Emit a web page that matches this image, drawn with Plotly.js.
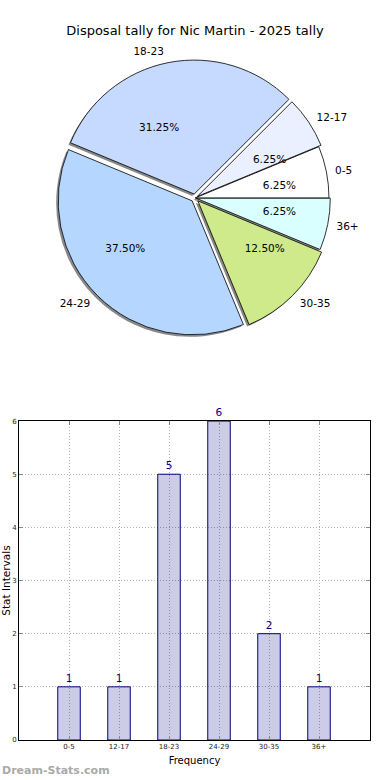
<!DOCTYPE html>
<html>
<head>
<meta charset="utf-8">
<script src="https://cdn.plot.ly/plotly-3.0.1.min.js"></script>
<style>html,body{margin:0;padding:0;background:#fff;}#chart{width:390px;height:780px;}</style>
</head>
<body>
<div id="chart"></div>
<script>
var categories = ["0-5", "12-17", "18-23", "24-29", "30-35", "36+"];
var counts = [1, 1, 5, 6, 2, 1];
var sliceColors = ["#FFFFFF", "#EAF0FF", "#C6D9FF", "#B5D6FF", "#CFEA8B", "#D9FFFF"];
var pulls = [0.0, 0.02, 0.03, 0.03, 0.03, 0.01];
var chartTitle = "Disposal tally for Nic Martin - 2025 tally";

var FONT = "DejaVu Sans, Verdana, sans-serif";
var CX = 195, CY = 198;
function dom(half, ox, oy) {
  ox = ox || 0; oy = oy || 0;
  var x = (CX + ox - 19) / 351, y = (740 - (CY + oy)) / 740;
  return {x: [x - half / 351, x + half / 351], y: [y - half / 740, y + half / 740]};
}
var ROT = 67.5;
function transparent() { return categories.map(function(){ return "rgba(0,0,0,0)"; }); }

var shadow = {
  type: "pie", labels: categories, values: counts, sort: false,
  direction: "counterclockwise", rotation: ROT, pull: pulls,
  domain: dom(138, -2, 2),
  marker: {colors: categories.map(function(){return "#888888";}), line: {width: 0}},
  textinfo: "none", hoverinfo: "skip", showlegend: false
};
var mainPie = {
  type: "pie", labels: categories, values: counts, sort: false,
  direction: "counterclockwise", rotation: ROT, pull: pulls,
  domain: dom(138),
  marker: {colors: sliceColors, line: {color: "#000000", width: 0.8}},
  textinfo: "none", hoverinfo: "label+value", showlegend: false
};
var percentPie = {
  type: "pie", labels: categories, values: counts, sort: false,
  direction: "counterclockwise", rotation: ROT,
  domain: dom(66),
  marker: {colors: transparent(), line: {width: 0}},
  texttemplate: "%{percent:.2%}", textposition: "outside",
  outsidetextfont: {family: FONT, size: 10.5, color: "#000000"},
  hoverinfo: "skip", showlegend: false
};
var labelPie = {
  type: "pie", labels: categories, values: counts, sort: false,
  direction: "counterclockwise", rotation: ROT, pull: pulls,
  domain: dom(144),
  marker: {colors: transparent(), line: {width: 0}},
  texttemplate: "%{label}", textposition: "outside",
  outsidetextfont: {family: FONT, size: 10.5, color: "#000000"},
  hoverinfo: "skip", showlegend: false
};
var bars = {
  type: "bar", x: categories, y: counts, width: 0.45,
  marker: {color: "rgba(0,0,128,0.2)", line: {color: "#000080", width: 1}},
  text: counts.map(String), textposition: "outside", cliponaxis: false,
  textfont: {family: FONT, size: 10, color: "#000080"},
  xaxis: "x", yaxis: "y", showlegend: false, hoverinfo: "x+y"
};

var layout = {
  width: 390, height: 780,
  margin: {l: 19, r: 20, t: 0, b: 40},
  paper_bgcolor: "#ffffff", plot_bgcolor: "#ffffff",
  font: {family: FONT, color: "#000000"},
  uniformtext: {minsize: 10.5, mode: "show"},
  title: {text: chartTitle, font: {family: FONT, size: 13, color: "#000000"},
          x: 0.5, xanchor: "center", y: 1 - 30/780, yanchor: "middle", yref: "container"},
  xaxis: {
    type: "category", range: [-1, 6.02], domain: [0, 1],
    showgrid: true, gridcolor: "#b0b0b0", griddash: "1px,2px", gridwidth: 1,
    showline: true, linecolor: "#000000", linewidth: 1, mirror: "ticks",
    ticks: "inside", ticklen: 4, tickcolor: "#888888",
    tickfont: {family: FONT, size: 7, color: "#222222"},
    title: {text: "Frequency", font: {family: FONT, size: 10, color: "#000000"}, standoff: 6},
    zeroline: false, fixedrange: true
  },
  yaxis: {
    range: [0, 6], dtick: 1, domain: [0, 0.431],
    showgrid: true, gridcolor: "#b0b0b0", griddash: "1px,2px", gridwidth: 1,
    showline: true, linecolor: "#000000", linewidth: 1, mirror: "ticks",
    ticks: "inside", ticklen: 4, tickcolor: "#888888",
    tickfont: {family: FONT, size: 7, color: "#222222"},
    title: {text: "Stat Intervals", font: {family: FONT, size: 10.5, color: "#000000"}, standoff: 0},
    zeroline: false, fixedrange: true
  },
  annotations: [{
    text: "<b>Dream-Stats.com</b>", xref: "paper", yref: "paper",
    x: -19/351, y: -30/740, xanchor: "left", yanchor: "middle", showarrow: false,
    font: {family: FONT, size: 11, color: "#aaaaaa"}
  }]
};

Plotly.newPlot("chart", [shadow, mainPie, percentPie, labelPie, bars], layout, {displayModeBar: false, staticPlot: true});
</script>
</body>
</html>
